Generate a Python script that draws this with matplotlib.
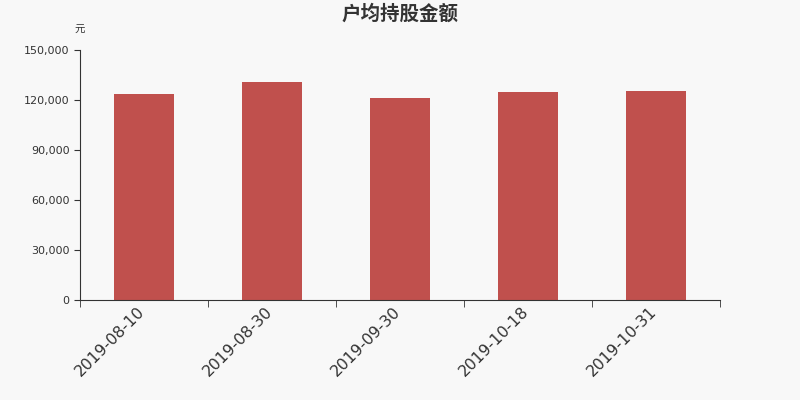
import matplotlib

matplotlib.use("Agg")
import matplotlib.pyplot as plt
import matplotlib.transforms as mtransforms
import numpy as np
from matplotlib.ticker import FuncFormatter

plt.rcParams["font.family"] = ["DejaVu Sans", "Noto Sans CJK SC"]

DATES = ["2019-08-10", "2019-08-30", "2019-09-30", "2019-10-18", "2019-10-31"]
AMOUNTS = [123800, 131000, 121300, 125000, 125700]
Y_TICKS = [0, 30000, 60000, 90000, 120000, 150000]

BG = "#f8f8f8"
BAR_COLOR = "#c0504d"
TEXT = "#333333"

fig = plt.figure(figsize=(8, 4), dpi=100, facecolor=BG)
ax = fig.add_axes([0.1, 0.25, 0.8, 0.625], facecolor=BG)

x = np.arange(len(DATES))
ax.bar(x, AMOUNTS, width=0.47, color=BAR_COLOR)

ax.set_xlim(-0.5, len(DATES) - 0.5)
ax.set_ylim(0, 150000)
ax.set_yticks(Y_TICKS)
ax.yaxis.set_major_formatter(FuncFormatter(lambda v, _: f"{int(v):,}"))

# labels at bar centres, tick marks on category boundaries
ax.set_xticks(x)
ax.set_xticklabels(DATES, rotation=45, ha="right", rotation_mode="anchor",
                   fontsize=11.3, color=TEXT)
ax.set_xticks(np.arange(-0.5, len(DATES)), minor=True)
ax.tick_params(axis="x", which="major", length=0, pad=3)
ax.tick_params(axis="x", which="minor", length=5, color=TEXT, direction="out")
ax.tick_params(axis="y", length=4, color=TEXT, labelsize=8, labelcolor=TEXT)

# nudge the rotated date labels a little to the left
shift = mtransforms.ScaledTranslation(-5 / 72, 0, fig.dpi_scale_trans)
for lbl in ax.get_xticklabels():
    lbl.set_transform(lbl.get_transform() + shift)

for side in ["top", "right"]:
    ax.spines[side].set_visible(False)
ax.spines["left"].set_color(TEXT)
ax.spines["bottom"].set_color(TEXT)

fig.text(0.5, 0.965, "户均持股金额", ha="center", va="center", fontsize=14,
         fontweight="bold", color=TEXT, family=["Noto Sans CJK SC"])
fig.text(0.099, 0.925, "元", ha="center", va="center", fontsize=7.5, color=TEXT,
         family=["Noto Sans CJK SC"])

fig.savefig("out.png", dpi=100, facecolor=BG)
